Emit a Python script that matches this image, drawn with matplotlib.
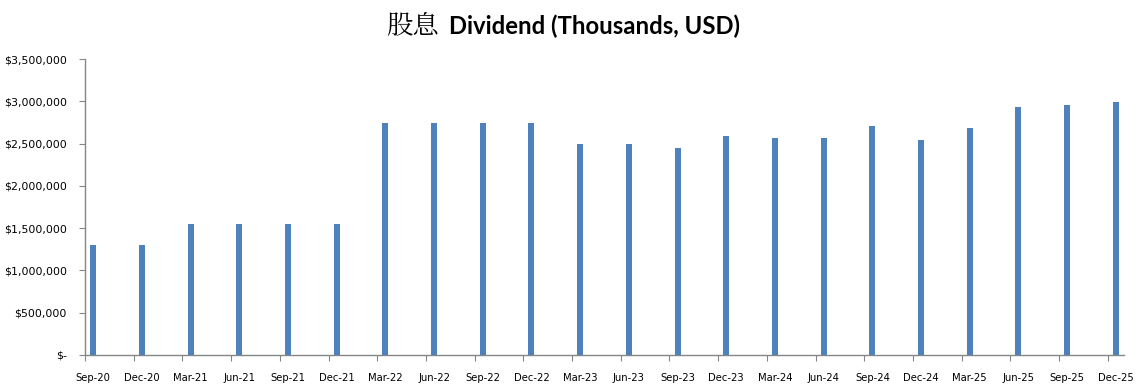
import matplotlib
matplotlib.use("Agg")
import matplotlib.pyplot as plt
import numpy as np
from matplotlib.ticker import FuncFormatter

categories = ["Sep-20", "Dec-20", "Mar-21", "Jun-21", "Sep-21", "Dec-21",
              "Mar-22", "Jun-22", "Sep-22", "Dec-22", "Mar-23", "Jun-23",
              "Sep-23", "Dec-23", "Mar-24", "Jun-24", "Sep-24", "Dec-24",
              "Mar-25", "Jun-25", "Sep-25", "Dec-25"]
dividend = [1300000, 1300000, 1550000, 1550000, 1550000, 1550000,
            2745000, 2745000, 2745000, 2745000, 2500000, 2500000,
            2448000, 2590000, 2566000, 2566000, 2708000, 2542000,
            2684000, 2932000, 2956000, 2990000]
yticks = [0, 500000, 1000000, 1500000, 2000000, 2500000, 3000000, 3500000]

plt.rcParams['font.family'] = ['DejaVu Sans']

W, H = 1147, 391
fig = plt.figure(figsize=(W / 100, H / 100), dpi=100)
ax = fig.add_axes([85 / W, (H - 355) / H, (1124 - 85) / W, (355 - 59) / H])

n = len(categories)
# months since Sep-2020; ticks at start of month, bars mid-month
tick_pos = np.arange(n) * 3.0
bar_pos = tick_pos + 0.5
ax.bar(bar_pos, dividend, width=0.37, color="#4F81BD", align="center", zorder=3)

ax.set_xlim(0, 3 * (n - 1) + 1)
ax.set_ylim(0, 3500000)
ax.set_xticks(tick_pos)
ax.set_xticklabels([])
ax.set_xticks(bar_pos, minor=True)
ax.set_xticklabels(categories, minor=True)
ax.tick_params(axis="x", which="minor", length=0, pad=13, labelsize=7.2, labelcolor="#000000")
ax.tick_params(axis="x", which="major", length=4, color="#868686", direction="out")
ax.set_yticks(yticks)
ax.yaxis.set_major_formatter(FuncFormatter(lambda v, p: "$-" if v == 0 else "${:,.0f}".format(v)))
ax.tick_params(axis="y", length=4, color="#868686", direction="out", labelsize=7.9, pad=9)

for s in ["top", "right"]:
    ax.spines[s].set_visible(False)
for s in ["left", "bottom"]:
    ax.spines[s].set_color("#868686")
    ax.spines[s].set_linewidth(1.0)

fig.text(386 / W, 1 - 26 / H, "股息", fontsize=19, family=["Noto Serif CJK SC", "Noto Sans CJK SC", "DejaVu Sans"],
         ha="left", va="center", color="#000000")
fig.text(449 / W, 1 - 26 / H, "Dividend (Thousands, USD)", fontsize=17.2, weight="bold",
         family=["Lato", "DejaVu Sans"], ha="left", va="center", color="#000000")

fig.savefig("out.png", dpi=100, facecolor="white")
